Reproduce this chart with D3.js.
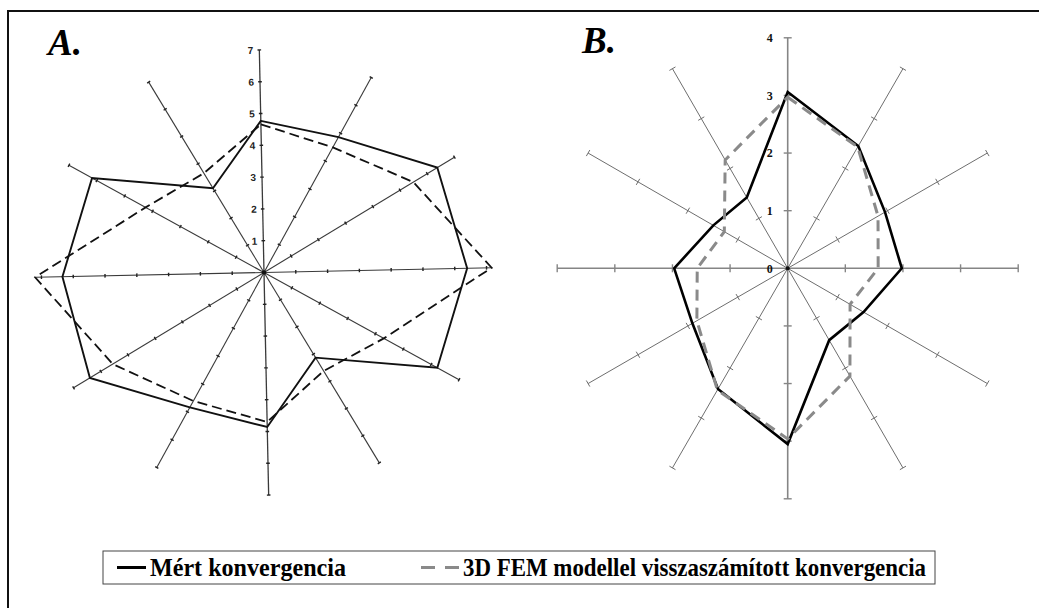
<!DOCTYPE html>
<html>
<head>
<meta charset="utf-8">
<script src="https://cdn.jsdelivr.net/npm/d3@7"></script>
<style>
  html, body { margin: 0; padding: 0; background: #fff; }
  svg { display: block; }
</style>
</head>
<body>
<script>
// Convergence measured around the tunnel section, 12 directions (clockwise from the crown)
const directions = d3.range(12).map(i => i * 30);

// Panel A
const measuredA = [4.77, 4.86, 6.37, 6.39, 6.22, 3.13, 4.86, 4.84, 6.40, 6.34, 6.17, 3.10];
const modelA    = [4.66, 4.49, 5.49, 7.16, 4.30, 3.62, 4.70, 4.61, 5.56, 7.20, 4.25, 3.65];
const ticksA    = [1, 2, 3, 4, 5, 6, 7];

// Panel B
const measuredB = [3.06, 2.45, 1.95, 1.98, 1.52, 1.44, 3.05, 2.42, 1.91, 1.97, 1.49, 1.42];
const modelB    = [2.97, 2.43, 1.81, 1.57, 1.25, 2.16, 2.96, 2.44, 1.82, 1.57, 1.27, 2.17];
const ticksB    = [0, 1, 2, 3, 4];

const panelLabels  = ["A.", "B."];
const legendLabels = ["Mért konvergencia", "3D FEM modellel visszaszámított konvergencia"];

const SERIF = '"Liberation Serif"';
const SANS = '"Liberation Sans"';

const W = 1039, H = 608;
const svg = d3.select("body").append("svg").attr("width", W).attr("height", H);
svg.append("rect").attr("width", W).attr("height", H).attr("fill", "#fff");

// outer frame (left and top edges)
svg.append("path")
  .attr("d", `M8,${H} V11 H${W}`)
  .attr("fill", "none").attr("stroke", "#111").attr("stroke-width", 2);

const rad = deg => deg * Math.PI / 180;
const pt = (deg, r) => [r * Math.sin(rad(deg)), -r * Math.cos(rad(deg))];

function radarLine(scale) {
  return d3.lineRadial()
    .angle((d, i) => rad(directions[i]))
    .radius(d => scale(d))
    .curve(d3.curveLinearClosed);
}

// ---------- Panel A ----------
const rA = d3.scaleLinear().domain([0, 7]).range([0, 222.6]);
const gA = svg.append("g").attr("transform", "translate(264,272.5) rotate(-1.2)");

directions.forEach(deg => {
  const ext = (deg % 180 === 90) ? 7.18 : 7;
  const [x, y] = pt(deg, rA(ext));
  gA.append("line").attr("x1", 0).attr("y1", 0).attr("x2", x).attr("y2", y)
    .attr("stroke", "#3a3a3a").attr("stroke-width", deg % 180 === 0 ? 1.3 : 1.1);
  ticksA.forEach(t => {
    const [cx, cy] = pt(deg, rA(t));
    const dx = Math.cos(rad(deg)) * 1.8, dy = Math.sin(rad(deg)) * 1.8;
    gA.append("line").attr("x1", cx - dx).attr("y1", cy - dy).attr("x2", cx + dx).attr("y2", cy + dy)
      .attr("stroke", "#222").attr("stroke-width", 1.4);
  });
});
gA.append("circle").attr("r", 2.2).attr("fill", "#111");

gA.append("path").datum(measuredA).attr("d", radarLine(rA))
  .attr("fill", "none").attr("stroke", "#111").attr("stroke-width", 1.9).attr("stroke-linejoin", "miter");
gA.append("path").datum(modelA).attr("d", radarLine(rA))
  .attr("fill", "none").attr("stroke", "#111").attr("stroke-width", 1.8).attr("stroke-dasharray", "10,5");

const yA = d3.scaleLinear().domain([0, 7]).range([0, -rA(7)]);
const axA = gA.append("g")
  .call(d3.axisLeft(yA).tickValues(ticksA).tickFormat(d3.format("d")).tickSize(0).tickPadding(6));
axA.select(".domain").remove();
axA.selectAll("text")
  .style("font-family", SANS).style("font-weight", "bold").style("font-size", "10px")
  .attr("fill", "#222");

svg.append("text").attr("x", 48).attr("y", 55).text(panelLabels[0])
  .style("font-family", SERIF).style("font-style", "italic").style("font-weight", "bold")
  .style("font-size", "37px").attr("fill", "#000");

// ---------- Panel B ----------
const rB = d3.scaleLinear().domain([0, 4]).range([0, 230.5]);
const gB = svg.append("g").attr("transform", "translate(787.7,268.3)");

directions.forEach(deg => {
  const main = deg % 90 === 0;
  const [x, y] = pt(deg, rB(4));
  gB.append("line").attr("x1", 0).attr("y1", 0).attr("x2", x).attr("y2", y)
    .attr("stroke", main ? "#858585" : "#6e6e6e").attr("stroke-width", main ? 1.6 : 1);
  [1, 2, 3, 4].forEach(t => {
    const [cx, cy] = pt(deg, rB(t));
    const half = main ? 4 : 3.5;
    const dx = Math.cos(rad(deg)) * half, dy = Math.sin(rad(deg)) * half;
    gB.append("line").attr("x1", cx - dx).attr("y1", cy - dy).attr("x2", cx + dx).attr("y2", cy + dy)
      .attr("stroke", main ? "#858585" : "#6e6e6e").attr("stroke-width", main ? 1.4 : 1);
  });
});
gB.append("circle").attr("r", 2).attr("fill", "#111");

gB.append("path").datum(measuredB).attr("d", radarLine(rB))
  .attr("fill", "none").attr("stroke", "#000").attr("stroke-width", 2.6).attr("stroke-linejoin", "miter");
gB.append("path").datum(modelB).attr("d", radarLine(rB))
  .attr("fill", "none").attr("stroke", "#8a8a8a").attr("stroke-width", 3).attr("stroke-dasharray", "11,7");

const yB = d3.scaleLinear().domain([0, 4]).range([0, -rB(4)]);
const axB = gB.append("g")
  .call(d3.axisLeft(yB).tickValues(ticksB).tickFormat(d3.format("d")).tickSize(0).tickPadding(15));
axB.select(".domain").remove();
axB.selectAll("text")
  .style("font-family", SERIF).style("font-weight", "bold").style("font-size", "12px")
  .attr("fill", "#111");

svg.append("text").attr("x", 582).attr("y", 53).text(panelLabels[1])
  .style("font-family", SERIF).style("font-style", "italic").style("font-weight", "bold")
  .style("font-size", "37px").attr("fill", "#000");

// ---------- Legend ----------
const lg = svg.append("g");
lg.append("rect").attr("x", 103).attr("y", 551).attr("width", 832).attr("height", 33)
  .attr("fill", "#fff").attr("stroke", "#444").attr("stroke-width", 1);
lg.append("line").attr("x1", 117).attr("x2", 146).attr("y1", 567.5).attr("y2", 567.5)
  .attr("stroke", "#000").attr("stroke-width", 3);
lg.append("line").attr("x1", 421).attr("x2", 459).attr("y1", 567.5).attr("y2", 567.5)
  .attr("stroke", "#8a8a8a").attr("stroke-width", 3).attr("stroke-dasharray", "14,10");
const legendFont = sel => sel
  .style("font-family", SERIF).style("font-weight", "bold").style("font-size", "25px")
  .attr("fill", "#000").attr("lengthAdjust", "spacingAndGlyphs");
lg.append("text").attr("x", 150).attr("y", 575.5).text(legendLabels[0])
  .attr("textLength", 196).call(legendFont);
lg.append("text").attr("x", 463).attr("y", 575.5).text(legendLabels[1])
  .attr("textLength", 463).call(legendFont);
</script>
</body>
</html>
